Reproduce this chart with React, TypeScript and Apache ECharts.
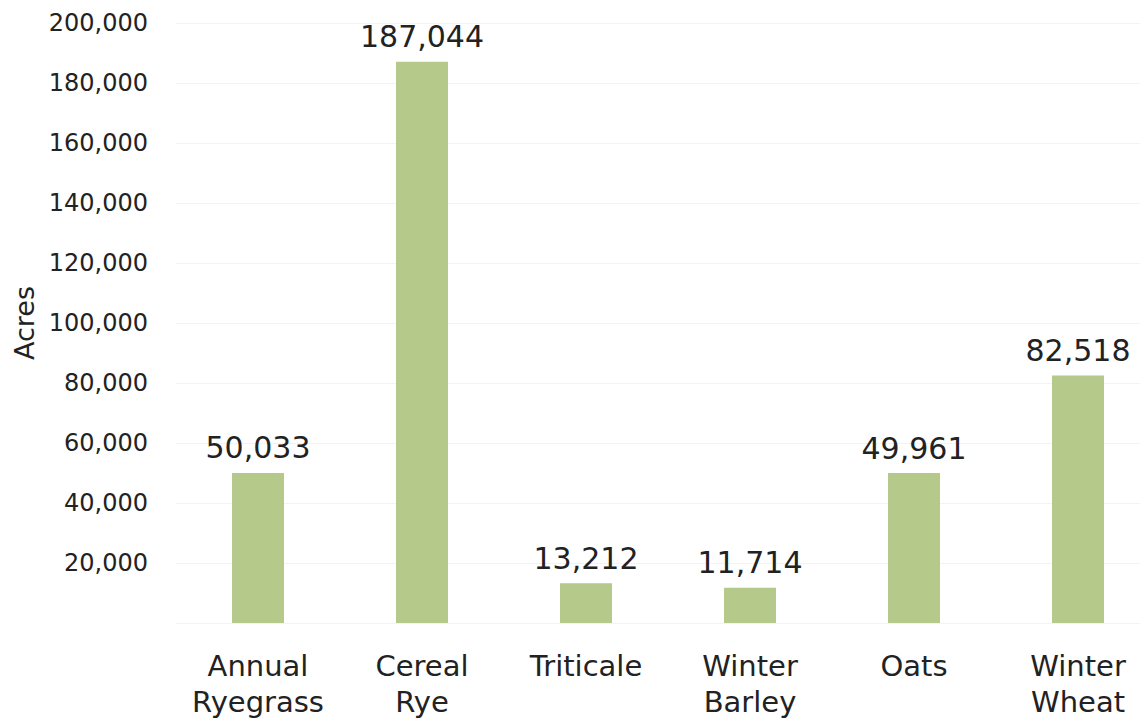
import React, { useEffect, useRef } from "react";
import * as echarts from "echarts";

const categories = ["Annual\nRyegrass", "Cereal\nRye", "Triticale", "Winter\nBarley", "Oats", "Winter\nWheat"];
const acres = [50033, 187044, 13212, 11714, 49961, 82518];
const yTicks = { min: 0, max: 200000, interval: 20000 };
const yTitle = "Acres";

const FONT = "DejaVu Sans";

export default function App() {
  const ref = useRef<HTMLDivElement>(null);
  useEffect(() => {
    const chart = echarts.init(ref.current!, null, { renderer: "svg" });
    chart.setOption({
      animation: false,
      backgroundColor: "#ffffff",
      grid: { left: 176, right: 0, top: 23, bottom: 101, containLabel: false },
      xAxis: {
        type: "category",
        data: categories,
        axisLine: { show: false },
        axisTick: { show: false },
        axisLabel: {
          color: "#222",
          fontFamily: FONT,
          fontSize: 29,
          lineHeight: 36,
          margin: 25,
          interval: 0,
        },
      },
      yAxis: {
        type: "value",
        min: yTicks.min,
        max: yTicks.max,
        interval: yTicks.interval,
        name: yTitle,
        nameLocation: "middle",
        nameGap: 138,
        nameRotate: 90,
        nameTextStyle: { color: "#222", fontFamily: FONT, fontSize: 27 },
        axisLine: { show: false },
        axisTick: { show: false },
        axisLabel: {
          color: "#222",
          fontFamily: FONT,
          fontSize: 24,
          margin: 28,
          formatter: (v: number) => (v === 0 ? "" : v.toLocaleString("en-US")),
        },
        splitLine: { show: true, lineStyle: { color: "#f3f3f3", width: 1 } },
      },
      series: [
        {
          type: "bar",
          data: acres,
          barWidth: 52,
          itemStyle: { color: "#b5c98a" },
          label: {
            show: true,
            position: "top",
            distance: 10,
            color: "#222",
            fontFamily: FONT,
            fontSize: 30,
            formatter: (p: any) => Number(p.value).toLocaleString("en-US"),
          },
        },
      ],
    });
    return () => chart.dispose();
  }, []);
  return (
    <div style={{ width: 1140, height: 724, position: "absolute", left: 0, top: 0, overflow: "hidden", background: "#fff" }}>
      <div ref={ref} style={{ width: 1160, height: 724 }} />
    </div>
  );
}
